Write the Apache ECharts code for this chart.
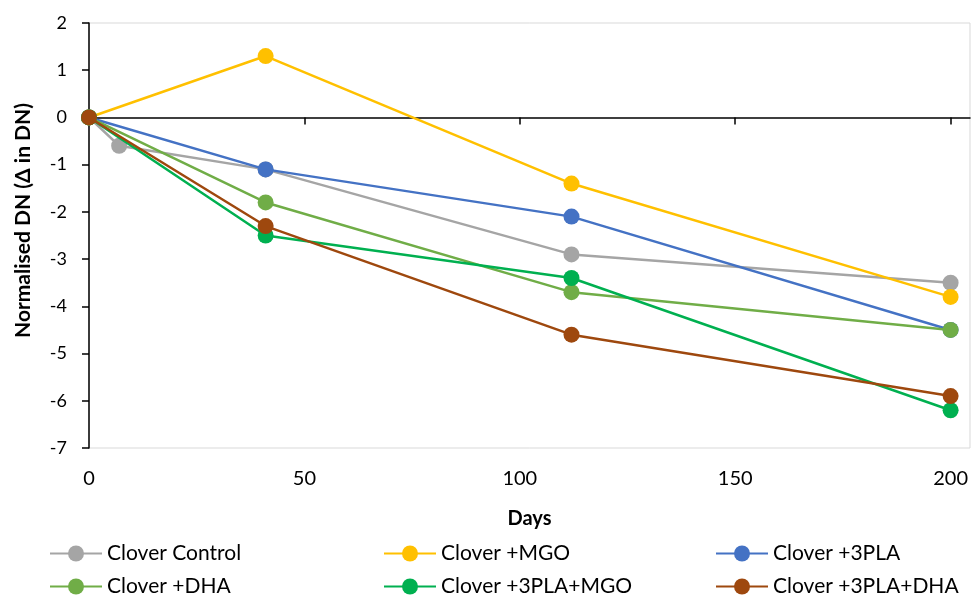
<!DOCTYPE html>
<html>
<head>
<meta charset="utf-8">
<script src="https://cdn.jsdelivr.net/npm/echarts@6/dist/echarts.min.js"></script>
<style>
  html, body { margin: 0; padding: 0; background: #fff; }
  #chart { width: 971px; height: 597px; }
</style>
</head>
<body>
<div id="chart"></div>
<script>
// Sampling days for each treatment
const daysControl = [0, 7, 41, 112, 200];
const daysTreated = [0, 41, 112, 200];

// Normalised DN change per treatment
const cloverControl   = [0, -0.6, -1.1, -2.9, -3.5];
const cloverMGO       = [0, 1.3, -1.4, -3.8];
const clover3PLA      = [0, -1.1, -2.1, -4.5];
const cloverDHA       = [0, -1.8, -3.7, -4.5];
const clover3PLAMGO   = [0, -2.5, -3.4, -6.2];
const clover3PLADHA   = [0, -2.3, -4.6, -5.9];

const seriesNames = ['Clover Control', 'Clover +MGO', 'Clover +3PLA',
                     'Clover +DHA', 'Clover +3PLA+MGO', 'Clover +3PLA+DHA'];
const seriesColors = ['#A5A5A5', '#FFC000', '#4472C4', '#70AD47', '#00B050', '#9E480E'];
const seriesValues = [cloverControl, cloverMGO, clover3PLA, cloverDHA, clover3PLAMGO, clover3PLADHA];
const seriesDays = [daysControl, daysTreated, daysTreated, daysTreated, daysTreated, daysTreated];

const xTicks = [0, 50, 100, 150, 200];
const FONT = 'Lato';

const chart = echarts.init(document.getElementById('chart'), null, { renderer: 'canvas' });

const series = seriesNames.map((name, i) => ({
  name: name,
  type: 'line',
  xAxisIndex: 0,
  data: seriesDays[i].map((d, j) => [d, seriesValues[i][j]]),
  symbol: 'circle',
  symbolSize: 16,
  color: seriesColors[i],
  lineStyle: { width: 2.5, color: seriesColors[i] },
  itemStyle: { color: seriesColors[i] },
  emphasis: { disabled: true },
  animation: false,
  z: 2 + i
}));

// Three legend columns, two entries each
const legendBase = {
  orient: 'vertical',
  top: 543,
  height: 60,
  padding: 0,
  itemWidth: 52,
  itemHeight: 20,
  itemGap: 12,
  textStyle: { fontFamily: FONT, fontSize: 21, lineHeight: 20, color: '#000' },
  selectedMode: false
};

chart.setOption({
  backgroundColor: '#fff',
  animation: false,
  grid: {
    left: 89, right: 1, top: 23, bottom: 149,
    show: true, borderColor: '#D9D9D9', borderWidth: 1, backgroundColor: 'transparent'
  },
  legend: [
    Object.assign({}, legendBase, { left: 49, data: [seriesNames[0], seriesNames[3]] }),
    Object.assign({}, legendBase, { left: 383, data: [seriesNames[1], seriesNames[4]] }),
    Object.assign({}, legendBase, { left: 715, data: [seriesNames[2], seriesNames[5]] })
  ],
  xAxis: [
    {
      type: 'value', min: 0, max: 204.5, position: 'bottom',
      axisLine: { onZero: true, lineStyle: { color: '#000', width: 1.5 } },
      axisTick: { show: true, length: 7, customValues: xTicks, lineStyle: { color: '#000', width: 1.5 } },
      axisLabel: { show: false },
      splitLine: { show: false }
    },
    {
      type: 'value', min: 0, max: 204.5, position: 'bottom',
      axisLine: { show: false, onZero: false },
      axisTick: { show: false },
      axisLabel: { show: true, customValues: xTicks, margin: 21,
        fontFamily: FONT, fontSize: 20, color: '#000' },
      splitLine: { show: false },
      name: 'Days', nameLocation: 'middle', nameGap: 61,
      nameTextStyle: { fontFamily: FONT, fontSize: 20, fontWeight: 'bold', color: '#000' }
    }
  ],
  yAxis: {
    type: 'value', min: -7, max: 2, interval: 1,
    axisLine: { show: true, lineStyle: { color: '#000', width: 1.5 } },
    axisTick: { show: true, length: 7, lineStyle: { color: '#000', width: 1.5 } },
    axisLabel: { margin: 22, fontFamily: FONT, fontSize: 18, color: '#000' },
    splitLine: { show: false }
  },
  graphic: [{
    type: 'text',
    left: 13,
    top: 103,
    rotation: Math.PI / 2,
    style: {
      text: 'Normalised DN (Δ in DN)',
      fontFamily: FONT, fontSize: 21, fontWeight: 'bold', fill: '#000'
    }
  }],
  series: series
});
</script>
</body>
</html>
